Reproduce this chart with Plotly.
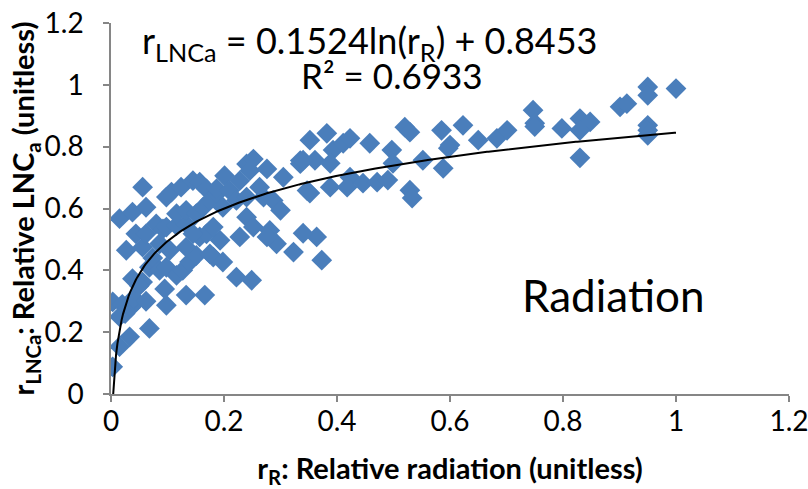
import numpy as np
import plotly.graph_objects as go

# Relative radiation (x) and relative LNCa (y)
rR = [0.003, 0.015, 0.033, 0.068, 0.003, 0.02, 0.035, 0.045, 0.025, 0.04,
      0.015, 0.062, 0.098, 0.095, 0.133, 0.166, 0.038, 0.056, 0.05, 0.068,
      0.074, 0.086, 0.098, 0.116, 0.127, 0.139, 0.151, 0.222, 0.249, 0.181,
      0.198, 0.175, 0.027, 0.056, 0.086, 0.104, 0.133, 0.015, 0.038, 0.062,
      0.056, 0.044, 0.062, 0.08, 0.092, 0.098, 0.116, 0.133, 0.098, 0.107,
      0.124, 0.145, 0.157, 0.169, 0.116, 0.133, 0.151, 0.163, 0.175, 0.187,
      0.198, 0.201, 0.187, 0.21, 0.222, 0.24, 0.252, 0.246, 0.276, 0.228,
      0.24, 0.263, 0.27, 0.287, 0.30, 0.305, 0.335, 0.335, 0.24, 0.252,
      0.228, 0.281, 0.293, 0.323, 0.276, 0.193, 0.157, 0.169, 0.145, 0.181,
      0.352, 0.382, 0.361, 0.34, 0.393, 0.411, 0.423, 0.388, 0.458, 0.497,
      0.499, 0.52, 0.529, 0.552, 0.585, 0.623, 0.60, 0.597, 0.588, 0.65,
      0.683, 0.701, 0.747, 0.75, 0.75, 0.798, 0.83, 0.848, 0.83, 0.83,
      0.901, 0.913, 0.95, 0.95, 1.0, 0.95, 0.95, 0.95, 0.352, 0.388,
      0.423, 0.418, 0.446, 0.471, 0.49, 0.529, 0.533, 0.364, 0.34, 0.373,
      0.347]
rLNCa = [0.088, 0.153, 0.185, 0.212, 0.298, 0.29, 0.28, 0.30, 0.26, 0.31,
         0.25, 0.30, 0.287, 0.34, 0.32, 0.32, 0.373, 0.362, 0.35, 0.41,
         0.44, 0.40, 0.41, 0.384, 0.40, 0.427, 0.448, 0.378, 0.368, 0.443,
         0.427, 0.453, 0.465, 0.475, 0.486, 0.465, 0.475, 0.567, 0.588, 0.604,
         0.669, 0.518, 0.518, 0.55, 0.534, 0.54, 0.545, 0.55, 0.637, 0.653,
         0.669, 0.69, 0.685, 0.663, 0.583, 0.594, 0.583, 0.604, 0.626, 0.647,
         0.604, 0.706, 0.664, 0.658, 0.626, 0.744, 0.76, 0.723, 0.728, 0.69,
         0.637, 0.669, 0.637, 0.626, 0.594, 0.701, 0.755, 0.745, 0.572, 0.54,
         0.508, 0.529, 0.486, 0.459, 0.508, 0.497, 0.508, 0.518, 0.518, 0.54,
         0.821, 0.843, 0.756, 0.756, 0.789, 0.811, 0.827, 0.746, 0.811, 0.789,
         0.746, 0.863, 0.847, 0.756, 0.853, 0.869, 0.805, 0.795, 0.73, 0.821,
         0.827, 0.853, 0.918, 0.876, 0.865, 0.859, 0.891, 0.88, 0.853, 0.764,
         0.929, 0.939, 0.993, 0.966, 0.988, 0.869, 0.853, 0.837, 0.65, 0.669,
         0.701, 0.669, 0.682, 0.685, 0.692, 0.659, 0.634, 0.508, 0.52, 0.433,
         0.658]

# Logarithmic trendline coefficients (from the chart's equation)
fit_a = 0.1524
fit_b = 0.8453
fit_x = np.linspace(0.0039, 1.0, 400)
fit_y = fit_a * np.log(fit_x) + fit_b

xticks = [0, 0.2, 0.4, 0.6, 0.8, 1, 1.2]
yticks = [0, 0.2, 0.4, 0.6, 0.8, 1, 1.2]

FONT = "Lato"
AXC = "#868686"

fig = go.Figure()
fig.add_trace(go.Scatter(
    x=rR, y=rLNCa, mode="markers",
    marker=dict(symbol="diamond", size=16, color="#4a7ebb",
                line=dict(width=0)),
    showlegend=False, hoverinfo="x+y"))
fig.add_trace(go.Scatter(
    x=fit_x, y=fit_y, mode="lines",
    line=dict(color="black", width=2),
    showlegend=False, hoverinfo="skip"))

fig.update_layout(
    width=808, height=489,
    margin=dict(l=111, r=19, t=23, b=95),
    paper_bgcolor="white", plot_bgcolor="white",
    font=dict(family=FONT, color="black"),
    xaxis=dict(range=[0, 1.2], tickvals=xticks,
               ticktext=[("%g" % v) for v in xticks],
               automargin=False, ticklabeloverflow="allow",
               showgrid=False, zeroline=False, showline=True,
               linecolor=AXC, linewidth=1.5, ticks="outside", ticklen=6,
               tickcolor=AXC, tickwidth=1.5, ticklabelstandoff=-4,
               tickfont=dict(size=28, family=FONT, color="black"),
               title=dict(text="<b>r<sub>R</sub>: Relative radiation (unitless)</b>",
                          font=dict(size=29, family=FONT, color="black"),
                          standoff=24)),
    yaxis=dict(range=[0, 1.2], tickvals=yticks,
               ticktext=[("%g" % v) for v in yticks],
               automargin=False, ticklabeloverflow="allow",
               showgrid=False, zeroline=False, showline=True,
               linecolor=AXC, linewidth=1.5, ticks="outside", ticklen=6,
               tickcolor=AXC, tickwidth=1.5, ticklabelstandoff=14,
               tickfont=dict(size=28, family=FONT, color="black"),
               title=dict(text="<b>r<sub>LNCa</sub>: Relative LNC<sub>a</sub> (unitless)</b>",
                          font=dict(size=29, family=FONT, color="black"),
                          standoff=0)),
    annotations=[
        dict(x=0.457, y=1.138, xref="x", yref="y", showarrow=False,
             text="r<sub>LNCa</sub> = 0.1524ln(r<sub>R</sub>) + 0.8453",
             font=dict(size=36, family=FONT, color="black")),
        dict(x=0.497, y=1.031, xref="x", yref="y", showarrow=False,
             text="R² = 0.6933",
             font=dict(size=35, family=FONT, color="black")),
        dict(x=0.89, y=0.32, xref="x", yref="y", showarrow=False,
             text="Radiation",
             font=dict(size=44, family=FONT, color="black")),
    ],
)

fig.write_html("out.html",
               config={"displayModeBar": False},
               post_script="document.body.style.margin='0';"
                           "document.body.style.overflow='hidden';")
